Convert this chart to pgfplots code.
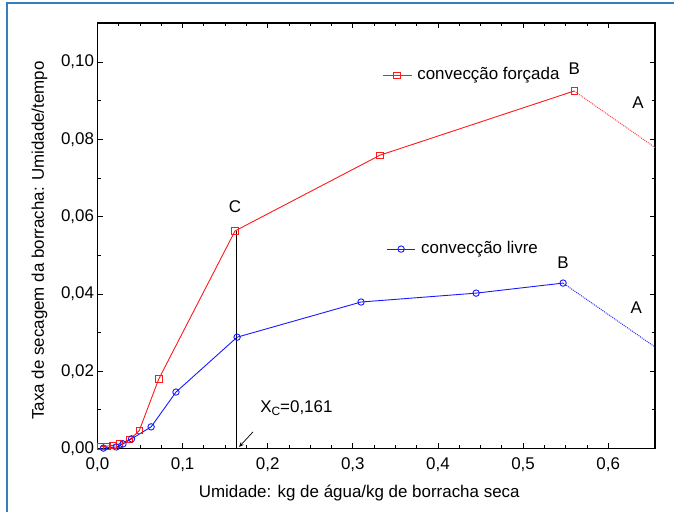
\documentclass[border=0pt]{standalone}
\usepackage{fontspec}
\setmainfont{Liberation Sans}
\usepackage{pgfplots}
\pgfplotsset{compat=1.18}
\usetikzlibrary{arrows.meta}
\definecolor{frameblue}{HTML}{3A7DBE}
\definecolor{cRed}{HTML}{FF1A1A}
\definecolor{cBlue}{HTML}{1A1AFF}

\begin{document}
\begin{tikzpicture}[x=1bp,y=1bp]
\useasboundingbox (0,0) rectangle (674,512);
\fill[white] (0,0) rectangle (674,512);
\draw[frameblue,line width=2bp] (7,-5) -- (7,509) -- (690,509);
\begin{axis}[
    at={(97.5bp,63.5bp)},anchor=south west,
    scale only axis,width=557.5bp,height=425.5bp,
    xmin=0,xmax=0.655,ymin=0,ymax=0.1101,
    xtick={0,0.1,0.2,0.3,0.4,0.5,0.6},
    ytick={0,0.02,0.04,0.06,0.08,0.1},
    minor x tick num=3,minor y tick num=1,
    tick align=inside,
    major tick length=5bp,minor tick length=3bp,
    every tick/.style={black,line width=0.8bp},
    axis line style={line width=1.3bp},
    font=\fontsize{17}{20}\selectfont,
    /pgf/number format/assume math mode=true,
    xticklabel style={/pgf/number format/use comma,/pgf/number format/fixed,
      /pgf/number format/fixed zerofill,/pgf/number format/precision=1,yshift=-6bp},
    yticklabel style={/pgf/number format/use comma,/pgf/number format/fixed,
      /pgf/number format/fixed zerofill,/pgf/number format/precision=2},
    scaled ticks=false,
    xlabel={Umidade: kg de água/kg de borracha seca},
    ylabel={Taxa de secagem da borracha: Umidade/tempo},
    xlabel style={at={(axis description cs:0.4695,-0.114)},anchor=base},
    ylabel style={at={(axis description cs:-0.096,0.489)},anchor=base},
    clip=true,
  ]
% convecção forçada
\addplot[cRed,line width=0.9bp,mark=square,mark size=3.2bp,mark options={solid,fill=white}] coordinates {
  (0.0033,0.0005) (0.011,0.0006) (0.018,0.0008) (0.0256,0.0012)
  (0.0378,0.0023) (0.049,0.0046) (0.072,0.0180) (0.1616,0.0563)
  (0.332,0.0759) (0.560,0.0925)};
\addplot[cRed!80,line width=1bp,densely dotted] coordinates {(0.560,0.0925) (0.660,0.0771)};
% convecção livre
\addplot[cBlue,line width=0.9bp,mark=o,mark size=3.2bp,mark options={solid,fill=white}] coordinates {
  (0.007,0.0001) (0.022,0.0004) (0.030,0.0012) (0.040,0.0025)
  (0.063,0.0056) (0.0922,0.0146) (0.164,0.0288) (0.3096,0.0379)
  (0.4448,0.0402) (0.547,0.0428)};
\addplot[cBlue!90,line width=1bp,densely dotted] coordinates {(0.547,0.0428) (0.660,0.0255)};
% legend samples
\addplot[cRed,line width=0.9bp,mark=square,mark size=3.2bp,mark indices={2},mark options={solid,fill=white}]
  coordinates {(0.3355,0.0966) (0.352,0.0966) (0.3696,0.0966)};
\addplot[cBlue,line width=0.9bp,mark=o,mark size=3.2bp,mark indices={2},mark options={solid,fill=white}]
  coordinates {(0.340,0.0516) (0.3567,0.0516) (0.373,0.0516)};
\node[anchor=west,inner sep=0pt] at (axis cs:0.3755,0.0966) {convecção forçada};
\node[anchor=west,inner sep=0pt] at (axis cs:0.380,0.0516) {convecção livre};
% critical moisture
\addplot[black,line width=1bp] coordinates {(0.163,0) (0.163,0.0563)};
\draw[-{Stealth[length=5bp,width=4bp]},line width=0.7bp] (axis cs:0.1827,0.0043) -- (axis cs:0.1663,0.0004);
\node[anchor=west,inner sep=0pt] at (axis cs:0.191,0.0105) {X\raisebox{-0.35ex}{\fontsize{12}{12}\selectfont C}=0,161};
\node at (axis cs:0.1616,0.0625) {C};
\node at (axis cs:0.560,0.0984) {B};
\node at (axis cs:0.547,0.0480) {B};
\node at (axis cs:0.635,0.0894) {A};
\node at (axis cs:0.633,0.0364) {A};
\end{axis}
\end{tikzpicture}
\end{document}
